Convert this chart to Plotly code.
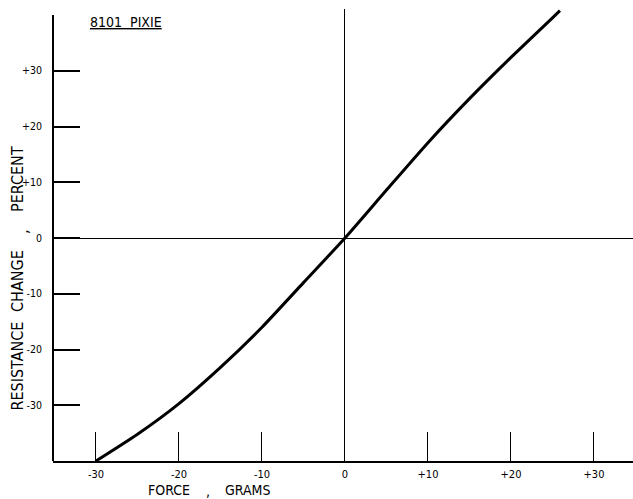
import plotly.graph_objects as go

# Data
force_g = [-30, -25, -20, -15, -10, -5, 0, 5, 10, 15, 20, 25, 25.9]
resistance_pct = [-40, -35.2, -29.7, -23.2, -16.0, -8.0, 0, 8.6, 17.1, 25.0, 32.4, 39.5, 40.8]

x_tickvals = [-30, -20, -10, 0, 10, 20, 30]
x_ticktext = ["-30", "-20", "-10", "0", "+10", "+20", "+30"]
y_tickvals = [-30, -20, -10, 0, 10, 20, 30]
y_ticktext = ["-30", "-20", "-10", "0", "+10", "+20", "+30"]

title_text = "8101&nbsp;&nbsp;PIXIE"
x_title_words = ["FORCE", ",", "GRAMS"]
y_title_words = ["RESISTANCE", "CHANGE", ",", "PERCENT"]

FONT = "Liberation Sans Narrow, DejaVu Sans Condensed, sans-serif"

W, H = 633, 499
L, R, T, B = 53, 0, 9, 38
PW, PH = W - L - R, H - T - B


def px_x(p):
    return (p - L) / PW


def px_y(p):
    return (H - B - p) / PH


fig = go.Figure()
fig.add_trace(go.Scatter(
    x=force_g, y=resistance_pct, mode="lines",
    line=dict(color="black", width=3, shape="spline", smoothing=0.6),
    showlegend=False, hoverinfo="skip",
))

fig.update_layout(
    width=W, height=H,
    margin=dict(l=L, r=R, t=T, b=B, autoexpand=False),
    paper_bgcolor="white", plot_bgcolor="white",
    font=dict(family=FONT, color="black"),
    showlegend=False,
    xaxis=dict(
        range=[-35.18, 34.70], showgrid=False, automargin=False,
        zeroline=True, zerolinecolor="black", zerolinewidth=1,
        showline=True, linecolor="black", linewidth=2,
        ticks="inside", ticklen=29, tickwidth=1, tickcolor="black",
        tickvals=x_tickvals, ticktext=x_ticktext,
        tickfont=dict(family=FONT, size=11, color="black"),
        ticklabelstandoff=2,
    ),
    yaxis=dict(
        range=[-40, 41.08], showgrid=False, automargin=False,
        zeroline=True, zerolinecolor="black", zerolinewidth=1,
        showline=False,
        ticks="inside", ticklen=27, tickwidth=1.5, tickcolor="black",
        tickvals=y_tickvals, ticktext=y_ticktext,
        tickfont=dict(family=FONT, size=10.5, color="black"),
        ticklabelstandoff=10,
    ),
)

# left axis line from -40 to +40
fig.add_shape(type="line", xref="paper", yref="y", x0=0, x1=0, y0=-40, y1=40,
              line=dict(color="black", width=2))

# chart title (underlined)
fig.add_annotation(
    xref="paper", yref="paper", x=px_x(88), y=px_y(22),
    xanchor="left", yanchor="middle", showarrow=False,
    text="<u>" + title_text + "</u>",
    font=dict(family=FONT, size=14, color="black"),
)

# x-axis title words
for word, xc, yc in zip(x_title_words, [168.5, 208, 247.5], [490, 491, 490]):
    fig.add_annotation(
        xref="paper", yref="paper", x=px_x(xc), y=px_y(yc),
        xanchor="center", yanchor="middle", showarrow=False,
        text=word, font=dict(family=FONT, size=14, color="black"),
    )

# y-axis title words (rotated)
for word, yc, xc in zip(y_title_words, [366.5, 281, 232, 179], [17, 17, 22, 17]):
    fig.add_annotation(
        xref="paper", yref="paper", x=px_x(xc), y=px_y(yc),
        xanchor="center", yanchor="middle", showarrow=False, textangle=-90,
        text=word, font=dict(family=FONT, size=16, color="black"),
    )

fig.write_html(
    "out.html",
    config={"displayModeBar": False},
    post_script="document.body.style.margin='0';document.body.style.padding='0';",
)
